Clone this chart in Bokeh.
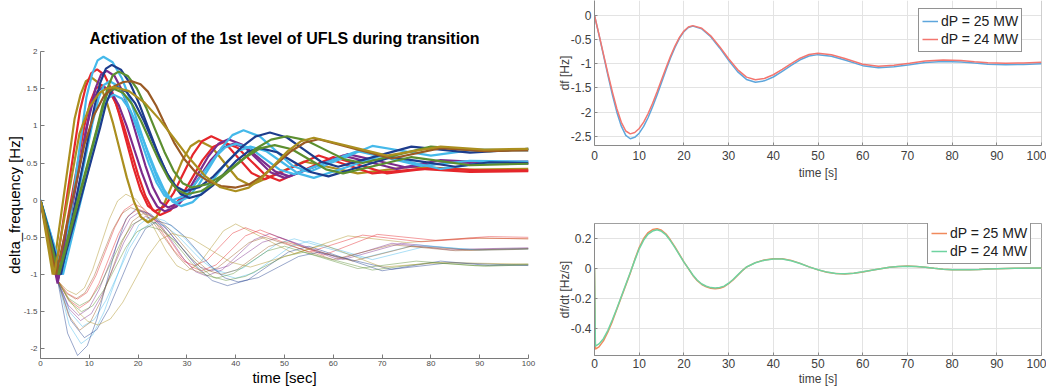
from bokeh.plotting import figure
from bokeh.layouts import row, column
from bokeh.models import (FixedTicker, Legend, LegendItem, Range1d, Span,
                          NumeralTickFormatter)
from bokeh.embed import file_html
from bokeh.resources import INLINE

FONT = "Liberation Sans"

# ---------------- left panel data ----------------
x_ticks_left = [0, 10, 20, 30, 40, 50, 60, 70, 80, 90, 100]
y_ticks_left = [-2, -1.5, -1, -0.5, 0, 0.5, 1, 1.5, 2]

OLIVE, RED, PURPLE, CYAN, NAVY, GREEN, BROWN = (
    "#ab8f1f", "#e5262b", "#7d2b8c", "#45b9ea", "#1d3c8c", "#5c8f30", "#9a5a24")

thick_colors = [OLIVE, RED, RED, PURPLE, PURPLE, CYAN, CYAN, CYAN,
                NAVY, NAVY, GREEN, GREEN, BROWN, OLIVE]

thick_t = [
    [0, 2.5, 7.0, 8.2, 9.3, 10.5, 11.94, 13.38, 14.81, 16.25, 17.69, 19.13, 20.56, 22.0,
     23.75, 25.5, 27.25, 29.0, 30.75, 32.5, 35.13, 37.75, 40.38, 43.0, 48.5, 54.0, 59.5, 65.0, 76.0, 88.0, 100],
    [0, 3.0, 8.1, 9.3, 10.4, 11.6, 13.09, 14.58, 16.06, 17.55, 19.04, 20.53, 22.01, 23.5,
     25.42, 27.33, 29.25, 31.17, 33.08, 35.0, 37.75, 40.5, 43.25, 46.0, 51.5, 57.0, 62.5, 68.0, 78.0, 88.0, 100],
    [0, 3.4, 9.0, 10.2, 11.3, 12.5, 14.0, 15.5, 17.0, 18.5, 20.0, 21.5, 23.0, 24.5,
     26.67, 28.83, 31.0, 33.17, 35.33, 37.5, 40.38, 43.25, 46.13, 49.0, 54.5, 60.0, 65.5, 71.0, 80.0, 90.0, 100],
    [0, 3.5, 10.1, 11.3, 12.4, 13.6, 15.18, 16.75, 18.33, 19.9, 21.48, 23.05, 24.63, 26.2,
     28.25, 30.3, 32.35, 34.4, 36.45, 38.5, 41.38, 44.25, 47.13, 50.0, 56.0, 62.0, 67.5, 73.0, 82.0, 91.0, 100],
    [0, 3.7, 9.4, 10.6, 11.7, 12.9, 14.48, 16.05, 17.63, 19.2, 20.78, 22.35, 23.93, 25.5,
     27.83, 30.17, 32.5, 34.83, 37.17, 39.5, 42.38, 45.25, 48.13, 51.0, 57.0, 63.0, 69.0, 75.0, 84.0, 92.0, 100],
    [0, 4.5, 9.4, 10.6, 11.7, 12.9, 14.78, 16.65, 18.53, 20.4, 22.28, 24.15, 26.03, 27.9,
     30.18, 32.47, 34.75, 37.03, 39.32, 41.6, 44.95, 48.3, 51.65, 55.0, 61.5, 68.0, 74.0, 80.0, 89.0, 100],
    [0, 4.3, 10.7, 11.9, 13.0, 14.2, 15.8, 17.4, 19.0, 20.6, 22.2, 23.8, 25.4, 27.0,
     29.17, 31.33, 33.5, 35.67, 37.83, 40.0, 43.0, 46.0, 49.0, 52.0, 58.5, 65.0, 71.5, 78.0, 88.0, 100],
    [0, 4.6, 11.5, 12.7, 13.8, 15.0, 16.73, 18.45, 20.18, 21.9, 23.63, 25.35, 27.08, 28.8,
     31.17, 33.53, 35.9, 38.27, 40.63, 43.0, 46.25, 49.5, 52.75, 56.0, 63.0, 70.0, 76.0, 82.0, 91.0, 100],
    [0, 4.2, 11.1, 12.3, 13.4, 14.6, 16.48, 18.35, 20.23, 22.1, 23.98, 25.85, 27.73, 29.6,
     32.5, 35.4, 38.3, 41.2, 44.1, 47.0, 50.5, 54.0, 57.5, 61.0, 68.5, 76.0, 82.0, 88.0, 100],
    [0, 4.0, 12.2, 13.4, 14.5, 15.7, 17.55, 19.4, 21.25, 23.1, 24.95, 26.8, 28.65, 30.5,
     32.92, 35.33, 37.75, 40.17, 42.58, 45.0, 48.5, 52.0, 55.5, 59.0, 65.5, 72.0, 78.5, 85.0, 92.0, 100],
    [0, 3.8, 12.5, 13.7, 14.8, 16.0, 17.88, 19.75, 21.63, 23.5, 25.38, 27.25, 29.13, 31.0,
     34.25, 37.5, 40.75, 44.0, 47.25, 50.5, 54.38, 58.25, 62.13, 66.0, 73.0, 80.0, 86.0, 92.0, 100],
    [0, 3.6, 11.5, 12.7, 13.8, 15.0, 16.88, 18.75, 20.63, 22.5, 24.38, 26.25, 28.13, 30.0,
     33.0, 36.0, 39.0, 42.0, 45.0, 48.0, 51.5, 55.0, 58.5, 62.0, 69.0, 76.0, 82.0, 88.0, 100],
    [0, 3.2, 9.0, 11.0, 13.0, 15.0, 17.0, 18.7, 20.5, 22.0, 23.7, 25.3, 27.5, 29.5, 32.0, 34.5, 37.0, 40.0,
     42.83, 45.67, 48.5, 51.33, 54.17, 57.0, 64.5, 72.0, 82.0, 91.0, 100],
    [0, 2.8, 8.0, 10.0, 12.0, 13.5, 15.0, 18.13, 21.25, 24.38, 27.5, 30.63, 33.75, 36.88, 40.0,
     42.67, 45.33, 48.0, 50.67, 53.33, 56.0, 63.5, 71.0, 82.0, 91.0, 100],
]
thick_v = [
    [0, -1.0, 1.10, 1.42, 1.60, 1.65, 1.576, 1.365, 1.047, 0.675, 0.303, -0.015, -0.226, -0.30,
     -0.226, -0.025, 0.25, 0.525, 0.726, 0.80, 0.712, 0.50, 0.288, 0.20, 0.36, 0.52, 0.44, 0.36, 0.45, 0.41, 0.42],
    [0, -1.0, 1.21, 1.53, 1.71, 1.76, 1.687, 1.481, 1.170, 0.805, 0.440, 0.129, -0.077, -0.15,
     -0.082, 0.103, 0.355, 0.608, 0.792, 0.86, 0.775, 0.57, 0.365, 0.28, 0.44, 0.60, 0.48, 0.36, 0.42, 0.38, 0.39],
    [0, -1.05, 1.00, 1.32, 1.50, 1.55, 1.484, 1.295, 1.009, 0.675, 0.341, 0.056, -0.134, -0.20,
     -0.134, 0.045, 0.29, 0.535, 0.714, 0.78, 0.704, 0.52, 0.336, 0.26, 0.42, 0.58, 0.47, 0.36, 0.43, 0.40, 0.40],
    [0, -1.12, 1.19, 1.51, 1.69, 1.74, 1.670, 1.471, 1.171, 0.82, 0.469, 0.169, -0.030, -0.10,
     -0.038, 0.13, 0.36, 0.59, 0.758, 0.82, 0.744, 0.56, 0.376, 0.30, 0.45, 0.60, 0.51, 0.42, 0.54, 0.51, 0.52],
    [0, -1.05, 0.97, 1.29, 1.47, 1.52, 1.457, 1.276, 1.004, 0.685, 0.366, 0.094, -0.087, -0.15,
     -0.089, 0.078, 0.305, 0.533, 0.699, 0.76, 0.696, 0.54, 0.384, 0.32, 0.47, 0.62, 0.53, 0.44, 0.51, 0.49, 0.49],
    [0, -1.0, 1.38, 1.70, 1.88, 1.93, 1.856, 1.644, 1.324, 0.95, 0.576, 0.256, 0.044, -0.03,
     0.035, 0.213, 0.455, 0.698, 0.875, 0.94, 0.858, 0.66, 0.462, 0.38, 0.555, 0.73, 0.665, 0.60, 0.68, 0.67],
    [0, -1.0, 1.05, 1.37, 1.55, 1.60, 1.539, 1.366, 1.106, 0.80, 0.494, 0.234, 0.061, 0.0,
     0.051, 0.19, 0.38, 0.57, 0.709, 0.76, 0.70, 0.555, 0.41, 0.35, 0.505, 0.66, 0.56, 0.46, 0.53, 0.52],
    [0, -1.0, 0.87, 1.19, 1.37, 1.42, 1.363, 1.201, 0.957, 0.67, 0.384, 0.139, -0.023, -0.08,
     -0.026, 0.12, 0.32, 0.52, 0.666, 0.72, 0.659, 0.51, 0.361, 0.30, 0.45, 0.60, 0.51, 0.42, 0.50, 0.49],
    [0, -1.0, 1.27, 1.59, 1.77, 1.82, 1.755, 1.572, 1.295, 0.97, 0.645, 0.368, 0.185, 0.12,
     0.173, 0.318, 0.515, 0.713, 0.857, 0.91, 0.843, 0.68, 0.517, 0.45, 0.585, 0.72, 0.68, 0.64, 0.69],
    [0, -1.0, 0.97, 1.29, 1.47, 1.52, 1.463, 1.302, 1.06, 0.775, 0.490, 0.248, 0.087, 0.03,
     0.075, 0.198, 0.365, 0.533, 0.655, 0.70, 0.645, 0.51, 0.375, 0.32, 0.45, 0.58, 0.515, 0.45, 0.51, 0.50],
    [0, -1.0, 1.18, 1.50, 1.68, 1.73, 1.671, 1.502, 1.248, 0.95, 0.652, 0.398, 0.229, 0.17,
     0.216, 0.343, 0.515, 0.688, 0.814, 0.86, 0.807, 0.68, 0.553, 0.50, 0.61, 0.72, 0.69, 0.66, 0.69],
    [0, -1.0, 0.95, 1.27, 1.45, 1.50, 1.446, 1.293, 1.061, 0.79, 0.519, 0.287, 0.134, 0.08,
     0.124, 0.245, 0.41, 0.575, 0.696, 0.74, 0.685, 0.55, 0.415, 0.36, 0.47, 0.58, 0.525, 0.47, 0.49],
    [0, -1.0, 0.75, 1.15, 1.40, 1.53, 1.59, 1.60, 1.56, 1.46, 1.27, 1.05, 0.76, 0.55, 0.36, 0.25, 0.19, 0.17,
     0.214, 0.333, 0.495, 0.658, 0.776, 0.82, 0.69, 0.56, 0.70, 0.66, 0.67],
    [0, -1.0, 0.90, 1.25, 1.44, 1.50, 1.52, 1.467, 1.316, 1.087, 0.82, 0.553, 0.324, 0.173, 0.12,
     0.168, 0.30, 0.48, 0.66, 0.792, 0.84, 0.72, 0.60, 0.72, 0.68, 0.69],
]

thin_colors = [OLIVE, RED, RED, PURPLE, PURPLE, CYAN, CYAN, NAVY,
               NAVY, GREEN, GREEN, BROWN, OLIVE, BROWN]

thin_t = [
    [0, 3.5, 5.4, 7.3, 9.0, 10.7, 12.4, 14.1, 15.8, 17.5, 19.58, 21.67, 23.75, 25.83, 27.92, 30.0,
     32.5, 35.0, 37.5, 40.0, 46.0, 52.0, 63.0, 75.0, 88.0, 100],
    [0, 3.5, 5.55, 7.6, 9.5, 11.4, 13.3, 15.2, 17.1, 19.0, 21.08, 23.17, 25.25, 27.33, 29.42, 31.5,
     34.13, 36.75, 39.38, 42.0, 48.5, 55.0, 66.0, 78.0, 90.0, 100],
    [0, 3.5, 5.75, 8.0, 10.0, 12.0, 14.0, 16.0, 18.0, 20.0, 22.17, 24.33, 26.5, 28.67, 30.83, 33.0,
     36.0, 39.0, 42.0, 45.0, 51.5, 58.0, 69.0, 81.0, 92.0, 100],
    [0, 3.5, 5.65, 7.8, 9.92, 12.03, 14.15, 16.27, 18.38, 20.5, 22.75, 25.0, 27.25, 29.5, 31.75, 34.0,
     37.25, 40.5, 43.75, 47.0, 54.0, 61.0, 72.0, 84.0, 100],
    [0, 3.5, 5.85, 8.2, 10.42, 12.63, 14.85, 17.07, 19.28, 21.5, 23.75, 26.0, 28.25, 30.5, 32.75, 35.0,
     38.5, 42.0, 45.5, 49.0, 55.5, 62.0, 74.0, 86.0, 100],
    [0, 3.5, 5.9, 8.3, 10.67, 13.03, 15.4, 17.77, 20.13, 22.5, 25.42, 28.33, 31.25, 34.17, 37.08, 40.0,
     43.75, 47.5, 51.25, 55.0, 61.5, 68.0, 79.0, 90.0, 100],
    [0, 3.5, 6.05, 8.6, 11.0, 13.4, 15.8, 18.2, 20.6, 23.0, 25.5, 28.0, 30.5, 33.0, 35.5, 38.0,
     41.5, 45.0, 48.5, 52.0, 59.0, 66.0, 77.0, 89.0, 100],
    [0, 3.5, 5.55, 7.6, 9.58, 11.57, 13.55, 15.53, 17.52, 19.5, 22.63, 25.77, 28.9, 32.03, 35.17, 38.3,
     42.48, 46.65, 50.83, 55.0, 62.5, 70.0, 82.0, 92.0, 100],
    [0, 3.5, 6.25, 9.0, 11.5, 14.0, 16.5, 19.0, 21.5, 24.0, 26.75, 29.5, 32.25, 35.0, 37.75, 40.5,
     44.63, 48.75, 52.88, 57.0, 64.5, 72.0, 84.0, 100],
    [0, 3.5, 5.75, 8.0, 10.17, 12.33, 14.5, 16.67, 18.83, 21.0, 23.5, 26.0, 28.5, 31.0, 33.5, 36.0,
     39.5, 43.0, 46.5, 50.0, 57.5, 65.0, 77.0, 89.0, 100],
    [0, 3.5, 5.95, 8.4, 10.67, 12.93, 15.2, 17.47, 19.73, 22.0, 24.67, 27.33, 30.0, 32.67, 35.33, 38.0,
     42.0, 46.0, 50.0, 54.0, 61.0, 68.0, 80.0, 91.0, 100],
    [0, 3.5, 5.35, 7.2, 9.08, 10.97, 12.85, 14.73, 16.62, 18.5, 20.92, 23.33, 25.75, 28.17, 30.58, 33.0,
     36.25, 39.5, 42.75, 46.0, 53.0, 60.0, 72.0, 85.0, 100],
    [0, 3.5, 5.5, 7.65, 9.7, 11.8, 14.33, 16.87, 19.4, 21.93, 24.47, 27.0, 31.0, 35.0, 39.0, 43.0,
     50.5, 58.0, 64.0, 70.0, 82.0, 100],
    [0, 3.5, 5.75, 8.0, 10.17, 12.33, 14.5, 16.67, 18.83, 21.0, 23.67, 26.33, 29.0, 31.67, 34.33, 37.0,
     40.25, 43.5, 46.75, 50.0, 57.0, 64.0, 76.0, 88.0, 100],
]
thin_v = [
    [0, -1.08, -1.21, -1.27, -1.18, -0.933, -0.595, -0.258, -0.01, 0.08, 0.011, -0.178, -0.435, -0.693, -0.881, -0.95,
     -0.858, -0.635, -0.412, -0.32, -0.52, -0.72, -0.48, -0.57, -0.51, -0.52],
    [0, -1.08, -1.255, -1.33, -1.244, -1.01, -0.69, -0.37, -0.136, -0.05, -0.106, -0.258, -0.465, -0.673, -0.824, -0.88,
     -0.806, -0.625, -0.444, -0.37, -0.535, -0.70, -0.47, -0.56, -0.51, -0.52],
    [0, -1.08, -1.34, -1.45, -1.361, -1.118, -0.785, -0.453, -0.209, -0.12, -0.176, -0.328, -0.535, -0.743, -0.894, -0.95,
     -0.87, -0.675, -0.48, -0.40, -0.57, -0.74, -0.46, -0.54, -0.49, -0.50],
    [0, -1.08, -1.41, -1.55, -1.456, -1.20, -0.85, -0.50, -0.244, -0.15, -0.208, -0.368, -0.585, -0.803, -0.962, -1.02,
     -0.937, -0.735, -0.533, -0.45, -0.625, -0.80, -0.58, -0.67, -0.65],
    [0, -1.08, -1.46, -1.62, -1.526, -1.27, -0.92, -0.57, -0.314, -0.22, -0.269, -0.403, -0.585, -0.768, -0.901, -0.95,
     -0.884, -0.725, -0.566, -0.50, -0.65, -0.80, -0.58, -0.66, -0.64],
    [0, -1.08, -1.68, -1.93, -1.815, -1.503, -1.075, -0.648, -0.335, -0.22, -0.276, -0.428, -0.635, -0.843, -0.994, -1.05,
     -0.977, -0.80, -0.623, -0.55, -0.675, -0.80, -0.62, -0.67, -0.66],
    [0, -1.08, -1.51, -1.70, -1.606, -1.35, -1.0, -0.65, -0.394, -0.30, -0.346, -0.47, -0.64, -0.81, -0.934, -0.98,
     -0.913, -0.75, -0.587, -0.52, -0.65, -0.78, -0.60, -0.67, -0.65],
    [0, -1.08, -1.79, -2.09, -1.958, -1.598, -1.105, -0.613, -0.252, -0.12, -0.189, -0.378, -0.635, -0.893, -1.081, -1.15,
     -1.073, -0.885, -0.697, -0.62, -0.785, -0.95, -0.82, -0.88, -0.87],
    [0, -1.08, -1.62, -1.85, -1.745, -1.458, -1.065, -0.673, -0.385, -0.28, -0.335, -0.485, -0.69, -0.895, -1.045, -1.10,
     -1.042, -0.90, -0.758, -0.70, -0.815, -0.93, -0.84, -0.88],
    [0, -1.08, -1.32, -1.42, -1.342, -1.128, -0.835, -0.543, -0.328, -0.25, -0.304, -0.45, -0.65, -0.85, -0.996, -1.05,
     -0.987, -0.835, -0.683, -0.62, -0.77, -0.92, -0.82, -0.88, -0.86],
    [0, -1.08, -1.37, -1.50, -1.423, -1.213, -0.925, -0.638, -0.427, -0.35, -0.399, -0.533, -0.715, -0.898, -1.031, -1.08,
     -1.025, -0.89, -0.755, -0.70, -0.82, -0.94, -0.84, -0.89, -0.87],
    [0, -1.08, -1.255, -1.33, -1.248, -1.023, -0.715, -0.408, -0.182, -0.10, -0.159, -0.32, -0.54, -0.76, -0.921, -0.98,
     -0.91, -0.74, -0.57, -0.50, -0.65, -0.80, -0.60, -0.68, -0.66],
    [0, -1.08, -1.30, -1.50, -1.63, -1.68, -1.598, -1.373, -1.065, -0.758, -0.532, -0.45, -0.516, -0.675, -0.834, -0.90,
     -0.75, -0.60, -0.75, -0.90, -0.84, -0.86],
    [0, -1.08, -1.55, -1.75, -1.645, -1.358, -0.965, -0.573, -0.285, -0.18, -0.235, -0.385, -0.59, -0.795, -0.945, -1.0,
     -0.936, -0.78, -0.624, -0.56, -0.69, -0.82, -0.62, -0.67, -0.65],
]

# ---------------- right panels data ----------------
x_ticks_right = [0, 10, 20, 30, 40, 50, 60, 70, 80, 90, 100]
y_ticks_df = [-2.5, -2, -1.5, -1, -0.5, 0]
y_ticks_rate = [-0.4, -0.2, 0, 0.2]
legend_labels = ["dP = 25 MW", "dP = 24 MW"]

time_df = [0, 1, 2, 3, 4, 5, 6, 7, 8, 9, 10, 11, 12, 13, 14, 15, 16, 17, 18, 19, 20, 21, 22,
           24, 26, 28, 30, 32, 34, 36,
           38, 40, 42, 44, 46, 48, 50, 53, 56, 60, 63.5, 67, 70.5, 74, 78, 82, 85, 88, 92, 96, 100]
df_25 = [0, -0.40, -0.82, -1.24, -1.64, -2.00, -2.29, -2.48, -2.55,
         -2.521, -2.435, -2.296, -2.11, -1.89, -1.644, -1.385, -1.126, -0.879, -0.659, -0.474, -0.335, -0.249, -0.22,
         -0.277, -0.439, -0.671, -0.929, -1.161, -1.323, -1.38,
         -1.352, -1.273, -1.158, -1.032, -0.917, -0.838, -0.81,
         -0.842, -0.921, -1.038, -1.08, -1.062, -1.019, -0.973, -0.95, -0.96, -0.985, -1.008, -1.02, -1.012, -1.0]
df_24 = [0, -0.39, -0.80, -1.20, -1.58, -1.93, -2.21, -2.39, -2.45,
         -2.422, -2.339, -2.206, -2.028, -1.816, -1.579, -1.33, -1.081, -0.844, -0.632, -0.454, -0.321, -0.238, -0.21,
         -0.265, -0.421, -0.645, -0.894, -1.119, -1.275, -1.33,
         -1.303, -1.226, -1.116, -0.994, -0.884, -0.807, -0.78,
         -0.812, -0.891, -1.008, -1.05, -1.032, -0.989, -0.943, -0.92, -0.93, -0.955, -0.978, -0.99, -0.982, -0.97]

time_rate = [0, 0.2, 1, 2, 3, 4, 5, 6, 7, 8, 9, 10, 11, 12, 13, 14, 15, 16, 17, 18, 19, 20,
             21, 22, 23, 24, 25, 26, 27, 28, 29, 30, 31, 32, 33, 34,
             36, 38, 40, 42, 44, 46, 48, 50, 52, 54, 56, 58, 60, 62, 64, 66, 68, 70,
             72, 74, 76, 78, 80, 82, 84, 86, 88, 90, 94, 100]
rate_25 = [0, -0.535,
           -0.52, -0.48, -0.42, -0.35, -0.27, -0.19, -0.11, -0.03, 0.06, 0.14,
           0.20, 0.24, 0.26, 0.265, 0.255, 0.23, 0.19, 0.145, 0.095, 0.045,
           0.0, -0.045, -0.08, -0.105, -0.12, -0.13, -0.133, -0.13, -0.12, -0.1,
           -0.075, -0.045, -0.015, 0.01,
           0.04, 0.058, 0.066, 0.066, 0.055, 0.035, 0.012, -0.008, -0.024, -0.033, -0.035, -0.031,
           -0.022, -0.01, 0.0, 0.009, 0.015, 0.017, 0.015, 0.009, 0.002, -0.004, -0.007, -0.008,
           -0.007, -0.005, -0.002, 0.0, 0.003, 0.004]
rate_24 = [0, -0.515,
           -0.50, -0.465, -0.41, -0.34, -0.265, -0.185, -0.105, -0.025, 0.055, 0.132,
           0.19, 0.23, 0.25, 0.258, 0.248, 0.224, 0.185, 0.14, 0.092, 0.043,
           0.002, -0.042, -0.077, -0.102, -0.117, -0.126, -0.128, -0.125, -0.116, -0.097,
           -0.072, -0.043, -0.014, 0.011,
           0.039, 0.056, 0.064, 0.064, 0.053, 0.034, 0.012, -0.007, -0.023, -0.032, -0.034, -0.030,
           -0.021, -0.01, 0.0, 0.009, 0.014, 0.016, 0.014, 0.009, 0.002, -0.004, -0.007, -0.008,
           -0.007, -0.005, -0.002, 0.0, 0.003, 0.004]

# ---------------- left figure ----------------
left = figure(width=547, height=388, x_range=Range1d(0, 100), y_range=Range1d(-2.13, 2.0),
              output_backend="svg", toolbar_location=None,
              title="Activation of the 1st level of UFLS during transition",
              min_border_left=40, min_border_right=19, min_border_top=51, min_border_bottom=30)
left.title.align = "center"
left.title.text_font = FONT
left.title.text_font_size = "16px"
left.title.text_font_style = "bold"
left.title.text_color = "black"
left.title.standoff = 9

for t, v, c in zip(thin_t, thin_v, thin_colors):
    left.line(t, v, line_color=c, line_width=1, line_alpha=0.45)
for t, v, c in zip(thick_t, thick_v, thick_colors):
    left.line(t, v, line_color=c, line_width=2.2)

left.grid.visible = False
left.outline_line_color = None
for ax in (left.xaxis[0], left.yaxis[0]):
    ax.axis_line_color = "#7a7a7a"
    ax.major_tick_line_color = "#7a7a7a"
    ax.major_tick_in = 4
    ax.major_tick_out = 0
    ax.minor_tick_line_color = None
    ax.major_label_text_font = FONT
    ax.major_label_text_font_size = "8px"
    ax.major_label_text_color = "#4a4a4a"
    ax.axis_label_text_font = FONT
    ax.axis_label_text_font_size = "15px"
    ax.axis_label_text_font_style = "normal"
    ax.axis_label_text_color = "black"
left.xaxis.major_label_standoff = 2
left.xaxis.axis_label_standoff = 0
left.yaxis.major_label_standoff = 3
left.yaxis.axis_label_standoff = -2
left.xaxis.axis_label = "time [sec]"
left.yaxis.axis_label = "delta_frequency [Hz]"
left.xaxis.ticker = FixedTicker(ticks=x_ticks_left)
left.yaxis.ticker = FixedTicker(ticks=y_ticks_left)
left.yaxis.formatter = NumeralTickFormatter(format="0.[0]")


def style_right(p, yticks, ylabel, x_std, x_lab_std):
    p.xaxis.ticker = FixedTicker(ticks=x_ticks_right)
    p.yaxis.ticker = FixedTicker(ticks=yticks)
    p.yaxis.formatter = NumeralTickFormatter(format="0.[0]")
    p.xgrid.ticker = FixedTicker(ticks=x_ticks_right)
    p.ygrid.ticker = FixedTicker(ticks=yticks)
    p.grid.grid_line_color = "#e3e3e3"
    p.grid.grid_line_width = 1
    for ax in (p.xaxis[0], p.yaxis[0]):
        ax.axis_line_color = "#8a8a8a"
        ax.major_tick_line_color = "#8a8a8a"
        ax.major_tick_in = 3
        ax.major_tick_out = 0
        ax.minor_tick_line_color = None
        ax.major_label_text_font = FONT
        ax.major_label_text_font_size = "12px"
        ax.major_label_text_color = "#404040"
        ax.axis_label_text_font = FONT
        ax.axis_label_text_font_size = "12px"
        ax.axis_label_text_font_style = "normal"
        ax.axis_label_text_color = "#404040"
    p.yaxis.major_label_standoff = 3
    p.yaxis.axis_label_standoff = -4
    p.xaxis.major_label_standoff = x_std
    p.xaxis.axis_label_standoff = x_lab_std
    p.xaxis.axis_label = "time [s]"
    p.yaxis.axis_label = ylabel


def make_legend(p, renderers, loc):
    items = [LegendItem(label=lab, renderers=[r]) for lab, r in zip(legend_labels, renderers)]
    lg = Legend(items=items, location=loc, label_text_font=FONT, label_text_font_size="14px",
                label_text_color="#202020", glyph_width=16, glyph_height=18, label_height=18,
                label_standoff=3, padding=3, spacing=0, margin=0,
                border_line_color="#262626", border_line_width=1, background_fill_alpha=1)
    p.add_layout(lg, "center")


# ---------------- right top ----------------
rt = figure(width=499, height=190, x_range=Range1d(0, 100), y_range=Range1d(-2.69, 0.31),
            output_backend="svg", toolbar_location=None,
            min_border_left=47, min_border_right=5, min_border_top=0, min_border_bottom=45)
r1 = rt.line(time_df, df_25, line_color="#5ea6dc", line_width=1.5)
r2 = rt.line(time_df, df_24, line_color="#f3766f", line_width=1.5)
style_right(rt, y_ticks_df, "df [Hz]", 5, 3)
rt.outline_line_color = None
rt.add_layout(Span(location=100, dimension="height", line_color="#a0a0a0", line_width=1))
make_legend(rt, [r1, r2], (324, 93))

# ---------------- right bottom ----------------
rb = figure(width=499, height=198, x_range=Range1d(0, 100), y_range=Range1d(-0.577, 0.30),
            output_backend="svg", toolbar_location=None,
            min_border_left=47, min_border_right=5, min_border_top=33, min_border_bottom=31)
r3 = rb.line(time_rate, rate_25, line_color="#f08a5c", line_width=1.5)
r4 = rb.line(time_rate, rate_24, line_color="#6fd3a0", line_width=1.5)
style_right(rb, y_ticks_rate, "df/dt [Hz/s]", 3, 1)
rb.outline_line_color = "#a0a0a0"
make_legend(rb, [r3, r4], (333, 91))

layout = row(left, column(rt, rb))
open("out.html", "w").write(file_html(layout, INLINE))
